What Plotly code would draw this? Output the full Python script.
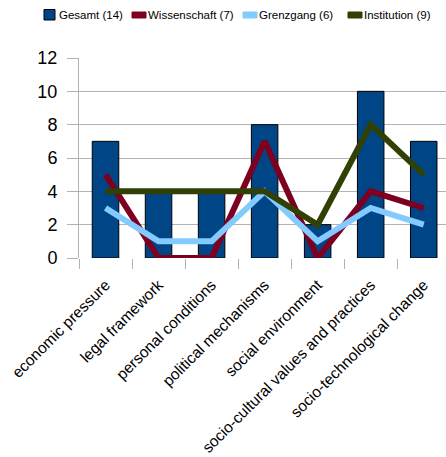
import plotly.graph_objects as go

categories = ["economic pressure", "legal framework", "personal conditions",
              "political mechanisms", "social environment",
              "socio-cultural values and practices", "socio-technological change"]
gesamt = [7, 4, 4, 8, 2, 10, 7]
wissenschaft = [5, 0, 0, 7, 0, 4, 3]
grenzgang = [3, 1, 1, 4, 1, 3, 2]
institution = [4, 4, 4, 4, 2, 8, 5]
y_ticks = [0, 2, 4, 6, 8, 10, 12]
series_names = ["Gesamt (14)", "Wissenschaft (7)", "Grenzgang (6)", "Institution (9)"]
series_colors = ["#004586", "#7e0021", "#83caff", "#314004"]

FONT = "Liberation Sans, Arial, sans-serif"
GRID = "#b3b3b3"
W, H = 446, 457
ML, MR, MT, MB = 79, 0, 58, 199
PW, PH = W - ML - MR, H - MT - MB


def px_x(px):
    return (px - ML) / PW


def px_y(py):
    return (H - MB - py) / PH


fig = go.Figure()
fig.add_trace(go.Bar(x=categories, y=gesamt, name=series_names[0], width=0.5,
                     marker=dict(color=series_colors[0], line=dict(color="#000000", width=1))))
for vals, nm, col in zip([wissenschaft, grenzgang, institution], series_names[1:], series_colors[1:]):
    fig.add_trace(go.Scatter(x=categories, y=vals, name=nm, mode="lines",
                             line=dict(color=col, width=6)))

# legend (drawn as key boxes + text in a single row, like the original)
legend_sym = [(44, 55, 9.5, 20), (132, 146, 12, 18), (243, 257, 12, 18), (348, 362, 12, 18)]
legend_txt = [58, 147, 258, 363]
shapes, annos = [], []
for i, (nm, col) in enumerate(zip(series_names, series_colors)):
    x0, x1, y0, y1 = legend_sym[i]
    shapes.append(dict(type="rect", xref="paper", yref="paper",
                       x0=px_x(x0), x1=px_x(x1), y0=px_y(y1), y1=px_y(y0),
                       fillcolor=col,
                       line=dict(color="#000000" if i == 0 else col, width=1)))
    annos.append(dict(xref="paper", yref="paper", x=px_x(legend_txt[i]), y=px_y(15),
                      xanchor="left", yanchor="middle", showarrow=False, text=nm,
                      font=dict(size=11.5, color="#000000", family=FONT), borderpad=0))

fig.update_layout(
    width=W, height=H,
    margin=dict(l=ML, r=MR, t=MT, b=MB),
    paper_bgcolor="white", plot_bgcolor="white",
    font=dict(family=FONT, color="#000000"),
    showlegend=False,
    shapes=shapes, annotations=annos,
    xaxis=dict(type="category", range=[-0.5, 6.42], showgrid=False, zeroline=False,
               ticks="outside", tickson="boundaries", ticklen=10, tickcolor=GRID,
               tickangle=-45, tickfont=dict(size=15.5), showline=False,
               ticklabelstandoff=14),
    yaxis=dict(range=[0, 12], tickvals=y_ticks, showgrid=True, gridcolor=GRID,
               zeroline=False, ticks="outside", ticklen=11, tickcolor=GRID,
               showline=True, linecolor=GRID, tickfont=dict(size=18),
               ticklabelstandoff=6),
)
fig.write_html("out.html", config={"displayModeBar": False},
               post_script="document.body.style.margin='0';")
